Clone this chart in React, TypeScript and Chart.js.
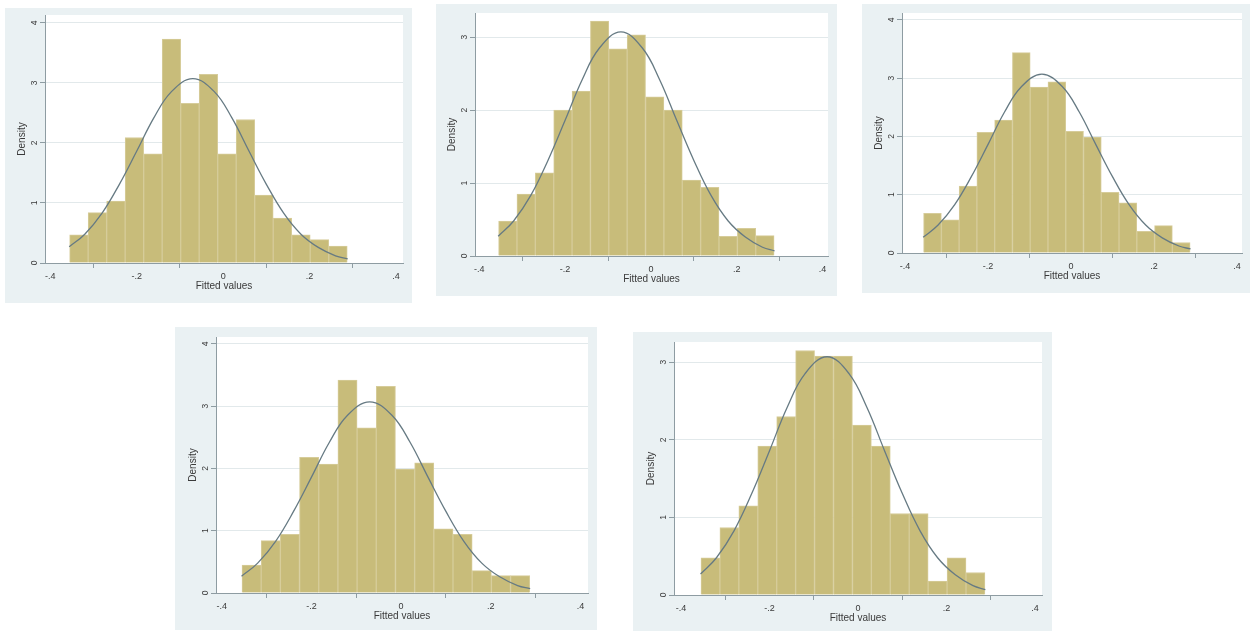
import React, { useEffect, useRef } from "react";
import { Chart, registerables } from "chart.js";

Chart.register(...registerables);

// ---------- data ----------
const binCenters = [
  -0.3336, -0.2908, -0.248, -0.2052, -0.1624, -0.1196, -0.0768, -0.034,
  0.0088, 0.0516, 0.0944, 0.1372, 0.18, 0.2228, 0.2656,
];

const xTicks = [-0.4, -0.2, 0, 0.2, 0.4];
const xTickLabels = ["-.4", "-.2", "0", ".2", ".4"];

const yTicks4 = [0, 1, 2, 3, 4];
const yTicks3 = [0, 1, 2, 3];
const yTickLabels = ["0", "1", "2", "3", "4"];

// fitted normal density line
const curveX = [
  -0.356, -0.32, -0.28, -0.24, -0.2, -0.16, -0.12, -0.07, -0.02, 0.02, 0.06,
  0.1, 0.14, 0.18, 0.22, 0.26, 0.288,
];
const curveY = [
  0.27, 0.48, 0.83, 1.31, 1.86, 2.42, 2.85, 3.07, 2.85, 2.42, 1.86, 1.31,
  0.83, 0.48, 0.26, 0.12, 0.07,
];

const density1 = [0.47, 0.84, 1.03, 2.09, 1.82, 3.73, 2.66, 3.14, 1.82, 2.39, 1.13, 0.75, 0.47, 0.39, 0.28];
const density2 = [0.48, 0.85, 1.14, 2.0, 2.26, 3.22, 2.84, 3.03, 2.18, 2.0, 1.04, 0.94, 0.27, 0.38, 0.28];
const density3 = [0.68, 0.57, 1.15, 2.07, 2.28, 3.44, 2.85, 2.94, 2.09, 1.99, 1.04, 0.86, 0.37, 0.47, 0.18];
const density4 = [0.45, 0.84, 0.94, 2.18, 2.07, 3.42, 2.65, 3.32, 1.99, 2.09, 1.03, 0.94, 0.36, 0.28, 0.28];
const density5 = [0.48, 0.87, 1.15, 1.92, 2.3, 3.15, 3.08, 3.08, 2.19, 1.92, 1.05, 1.05, 0.18, 0.48, 0.29];

const xTitle = "Fitted values";
const yTitle = "Density";

// ---------- layout / style ----------
const panels = [
  { key: "p1", values: density1, yTicks: yTicks4, xMin: -0.412, xMax: 0.416, yMax: 4.13,
    bg: { left: 5, top: 8, width: 407, height: 295 }, plot: { left: 45, top: 15, right: 403, bottom: 263 } },
  { key: "p2", values: density2, yTicks: yTicks3, xMin: -0.41, xMax: 0.4126, yMax: 3.33,
    bg: { left: 436, top: 4, width: 401, height: 292 }, plot: { left: 475, top: 13, right: 828, bottom: 256 } },
  { key: "p3", values: density3, yTicks: yTicks4, xMin: -0.407, xMax: 0.412, yMax: 4.12,
    bg: { left: 862, top: 4, width: 388, height: 289 }, plot: { left: 902, top: 13, right: 1242, bottom: 253 } },
  { key: "p4", values: density4, yTicks: yTicks4, xMin: -0.413, xMax: 0.417, yMax: 4.11,
    bg: { left: 175, top: 327, width: 422, height: 303 }, plot: { left: 216, top: 337, right: 588, bottom: 593 } },
  { key: "p5", values: density5, yTicks: yTicks3, xMin: -0.416, xMax: 0.416, yMax: 3.26,
    bg: { left: 633, top: 332, width: 419, height: 299 }, plot: { left: 674, top: 342, right: 1042, bottom: 595 } },
];

const FONT = "'Liberation Sans', Arial, sans-serif";
const BG = "#EAF1F3";
const BAR = "#C8BC7A";
const BAR_EDGE = "#D6CC9A";
const LINE = "#667A83";
const AXIS = "#8E9CA2";
const GRID = "#E2E9EB";
const TEXT = "#3A3A3A";

const bgPlugin = {
  id: "stataBg",
  beforeDraw(chart: any) {
    const { ctx, width, height, chartArea } = chart;
    ctx.save();
    ctx.fillStyle = BG;
    ctx.fillRect(0, 0, width, height);
    ctx.fillStyle = "#FFFFFF";
    ctx.fillRect(chartArea.left, chartArea.top, chartArea.right - chartArea.left, chartArea.bottom - chartArea.top);
    ctx.restore();
  },
};

const yLabelPlugin = {
  id: "yRotLabels",
  afterDraw(chart: any) {
    const { ctx } = chart;
    const ys = chart.scales.y;
    ctx.save();
    ctx.fillStyle = TEXT;
    ctx.font = `8.5px ${FONT}`;
    ctx.textAlign = "center";
    ctx.textBaseline = "middle";
    ys.ticks.forEach((t: any) => {
      const py = ys.getPixelForValue(t.value);
      const label = yTickLabels[t.value] ?? String(t.value);
      ctx.save();
      ctx.translate(ys.right - 10, py);
      ctx.rotate(-Math.PI / 2);
      ctx.fillText(label, 0, 0);
      ctx.restore();
    });
    ctx.restore();
  },
};

function Panel({ cfg }: { cfg: any }) {
  const ref = useRef<HTMLCanvasElement>(null);
  useEffect(() => {
    const { bg, plot } = cfg;
    const W = bg.width;
    const H = bg.height;
    const yAxisWidth = plot.left - bg.left;
    const xAxisHeight = bg.top + H - plot.bottom;
    const titleSize = 10;
    const lh = titleSize * 1.2;
    const yTitleCenter = plot.left - 23 - bg.left;
    const xTitleCenter = plot.bottom + 23 - bg.top;

    const chart = new Chart(ref.current as HTMLCanvasElement, {
      type: "bar",
      data: {
        datasets: [
          {
            type: "line",
            data: curveX.map((x, i) => ({ x, y: curveY[i] })),
            borderColor: LINE,
            borderWidth: 1.3,
            pointRadius: 0,
            tension: 0.4,
            fill: false,
            order: 0,
          } as any,
          {
            type: "bar",
            data: binCenters.map((x, i) => ({ x, y: cfg.values[i] })),
            backgroundColor: BAR,
            borderColor: BAR_EDGE,
            borderWidth: 1,
            borderSkipped: "bottom",
            barPercentage: 1,
            categoryPercentage: 1,
            grouped: false,
            order: 1,
          } as any,
        ],
      },
      options: {
        responsive: false,
        animation: false,
        devicePixelRatio: 1,
        layout: {
          padding: { top: plot.top - bg.top, right: bg.left + W - plot.right, left: 0, bottom: 0 },
        },
        plugins: { legend: { display: false }, tooltip: { enabled: false } },
        scales: {
          x: {
            type: "linear",
            min: cfg.xMin,
            max: cfg.xMax,
            offset: false,
            afterBuildTicks: (s: any) => {
              s.ticks = xTicks.map((v) => ({ value: v }));
            },
            afterFit: (s: any) => {
              s.height = xAxisHeight;
            },
            ticks: {
              callback: (v: any) => {
                const idx = xTicks.findIndex((t) => Math.abs(t - v) < 1e-9);
                return idx >= 0 ? xTickLabels[idx] : "";
              },
              font: { family: FONT, size: 9 },
              color: TEXT,
              padding: 3,
              maxRotation: 0,
              minRotation: 0,
              autoSkip: false,
            },
            grid: {
              display: true,
              drawOnChartArea: false,
              drawTicks: true,
              tickLength: 5,
              tickColor: AXIS,
              color: AXIS,
            },
            border: { display: true, color: AXIS, width: 1 },
            title: {
              display: true,
              text: xTitle,
              font: { family: FONT, size: titleSize },
              color: TEXT,
              padding: { top: 0, bottom: H - xTitleCenter - lh / 2 },
            },
          } as any,
          y: {
            type: "linear",
            min: 0,
            max: cfg.yMax,
            afterBuildTicks: (s: any) => {
              s.ticks = cfg.yTicks.map((v: number) => ({ value: v }));
            },
            afterFit: (s: any) => {
              s.width = yAxisWidth;
            },
            ticks: { display: false },
            grid: {
              display: true,
              drawOnChartArea: true,
              drawTicks: true,
              tickLength: 5,
              color: GRID,
              tickColor: AXIS,
            },
            border: { display: true, color: AXIS, width: 1 },
            title: {
              display: true,
              text: yTitle,
              font: { family: FONT, size: titleSize },
              color: TEXT,
              padding: { top: yTitleCenter - lh / 2, bottom: 0 },
            },
          } as any,
        },
      },
      plugins: [bgPlugin, yLabelPlugin],
    });
    return () => chart.destroy();
  }, [cfg]);

  return (
    <canvas
      ref={ref}
      width={cfg.bg.width}
      height={cfg.bg.height}
      style={{
        position: "absolute",
        left: cfg.bg.left,
        top: cfg.bg.top,
        width: cfg.bg.width,
        height: cfg.bg.height,
        display: "block",
      }}
    />
  );
}

export default function App() {
  return (
    <div
      style={{
        position: "absolute",
        left: 0,
        top: 0,
        width: 1254,
        height: 631,
        background: "#FFFFFF",
        overflow: "hidden",
      }}
    >
      {panels.map((p) => (
        <Panel key={p.key} cfg={p} />
      ))}
    </div>
  );
}
